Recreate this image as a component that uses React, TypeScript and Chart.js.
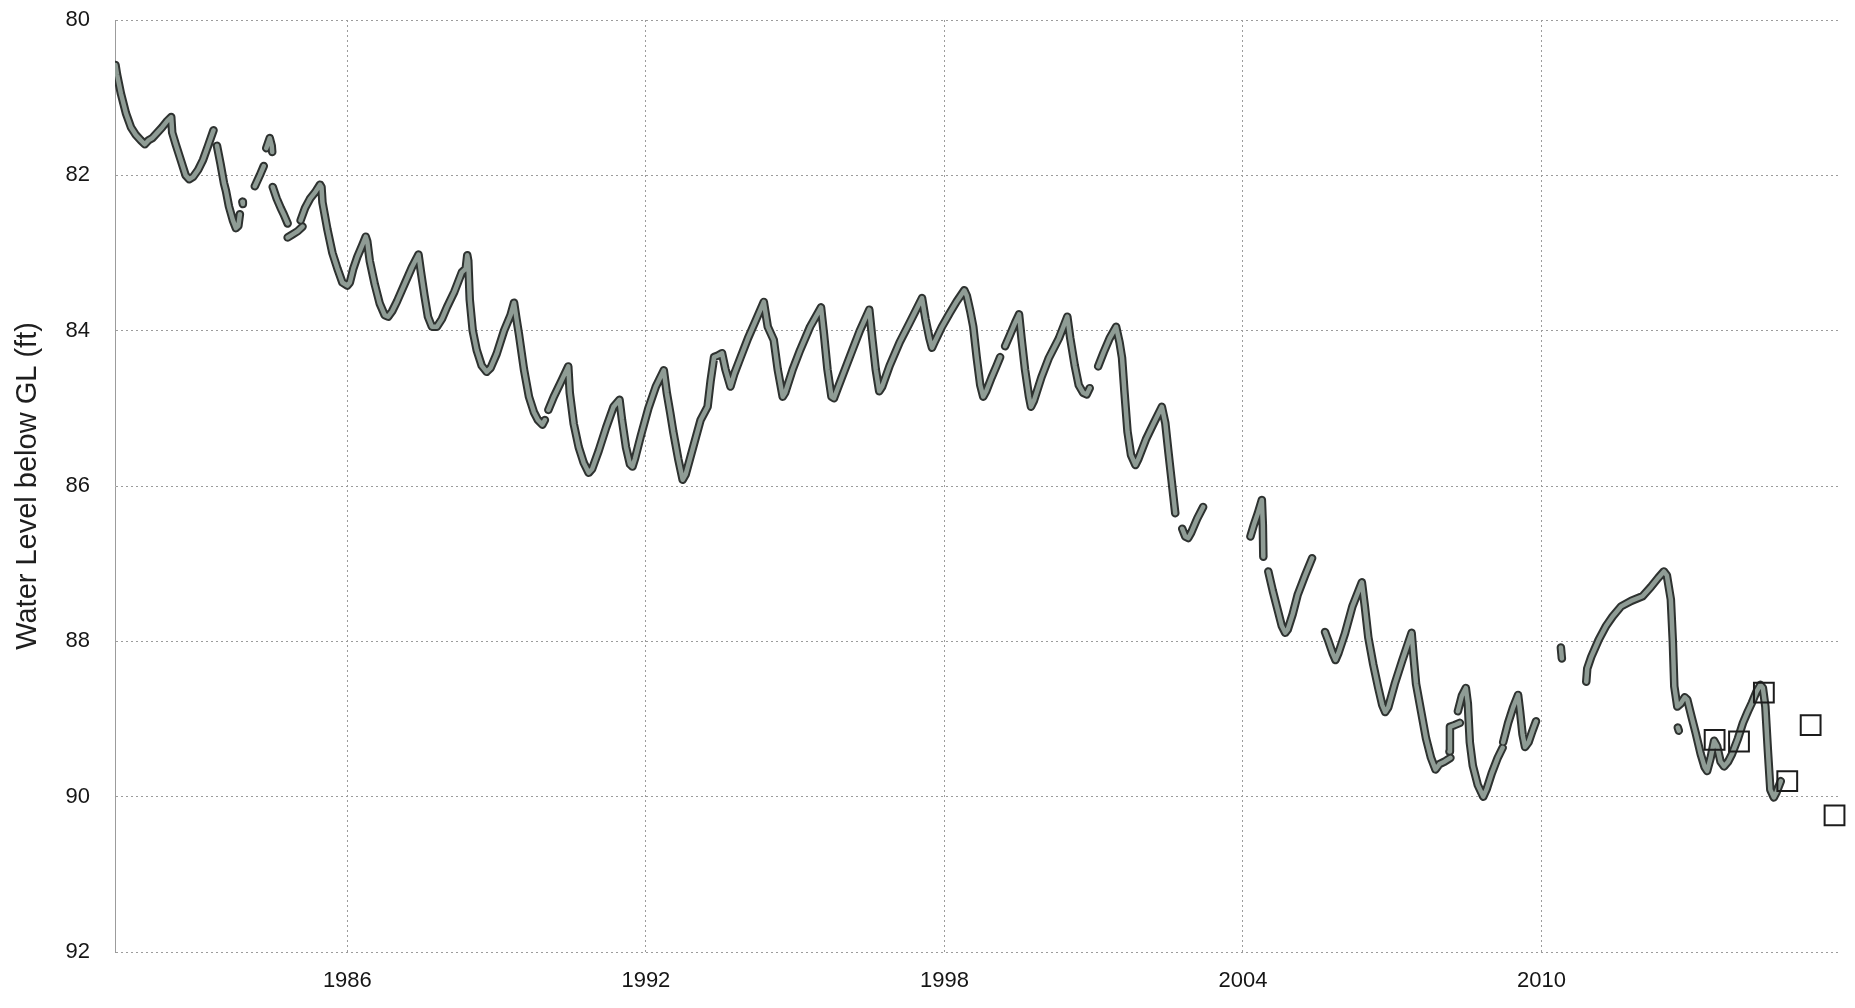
import React, { useEffect, useRef } from "react";
import { Chart, registerables } from "chart.js";

Chart.register(...registerables);

// Decimal year, water level below ground level (ft); null = gap in record
const hydrographReadings: ([number, number] | null)[] = [
  [1981.34, 80.58], [1981.37, 80.7], [1981.45, 80.95], [1981.55, 81.2], [1981.65, 81.38],
  [1981.75, 81.48], [1981.85, 81.55], [1981.93, 81.6], [1982.0, 81.55], [1982.08, 81.52],
  [1982.18, 81.45], [1982.28, 81.38], [1982.38, 81.3], [1982.46, 81.25], [1982.48, 81.45],
  [1982.55, 81.6], [1982.65, 81.8], [1982.75, 82.0], [1982.82, 82.05], [1982.9, 82.02],
  [1983.0, 81.93], [1983.1, 81.8], [1983.2, 81.62], [1983.31, 81.42],
  null,
  [1983.38, 81.62], [1983.45, 81.85], [1983.52, 82.1], [1983.56, 82.2], [1983.62, 82.4],
  [1983.7, 82.58], [1983.76, 82.68], [1983.81, 82.65], [1983.84, 82.5],
  null,
  [1983.89, 82.34], [1983.9, 82.37],
  null,
  [1984.14, 82.14], [1984.24, 82.0], [1984.32, 81.88],
  null,
  [1984.37, 81.65], [1984.44, 81.52], [1984.48, 81.62], [1984.49, 81.7],
  null,
  [1984.5, 82.15], [1984.58, 82.3], [1984.66, 82.42], [1984.72, 82.5], [1984.8, 82.62],
  null,
  [1984.8, 82.8], [1984.9, 82.76], [1985.0, 82.72], [1985.1, 82.66],
  null,
  [1985.06, 82.58], [1985.15, 82.42], [1985.25, 82.3], [1985.35, 82.22], [1985.45, 82.12],
  [1985.48, 82.15], [1985.5, 82.35], [1985.6, 82.7], [1985.7, 83.0], [1985.8, 83.2],
  [1985.9, 83.38], [1986.0, 83.42], [1986.05, 83.38], [1986.12, 83.2], [1986.2, 83.05],
  [1986.3, 82.9], [1986.37, 82.79], [1986.4, 82.85], [1986.45, 83.1], [1986.55, 83.4],
  [1986.65, 83.65], [1986.75, 83.8], [1986.82, 83.82], [1986.9, 83.75], [1987.0, 83.62],
  [1987.15, 83.4], [1987.3, 83.18], [1987.43, 83.02], [1987.48, 83.25], [1987.55, 83.55],
  [1987.62, 83.82], [1987.7, 83.95], [1987.8, 83.95], [1987.9, 83.85], [1988.0, 83.7],
  [1988.15, 83.5], [1988.3, 83.25], [1988.38, 83.2], [1988.41, 83.03], [1988.43, 83.1],
  [1988.46, 83.6], [1988.52, 84.0], [1988.6, 84.25], [1988.7, 84.45], [1988.8, 84.53],
  [1988.88, 84.48], [1989.0, 84.3], [1989.15, 84.0], [1989.28, 83.8], [1989.35, 83.64],
  [1989.4, 83.85], [1989.45, 84.05], [1989.55, 84.5], [1989.65, 84.85], [1989.75, 85.05],
  [1989.83, 85.15], [1989.92, 85.21], [1989.97, 85.15],
  null,
  [1990.04, 85.02], [1990.15, 84.85], [1990.3, 84.65], [1990.44, 84.46], [1990.47, 84.8],
  [1990.55, 85.2], [1990.65, 85.5], [1990.75, 85.7], [1990.85, 85.83], [1990.92, 85.78],
  [1991.05, 85.55], [1991.2, 85.25], [1991.35, 84.98], [1991.47, 84.89], [1991.52, 85.15],
  [1991.6, 85.5], [1991.68, 85.72], [1991.73, 85.75], [1991.78, 85.65], [1991.9, 85.35],
  [1992.05, 85.0], [1992.2, 84.72], [1992.36, 84.51], [1992.42, 84.8], [1992.49, 85.06],
  [1992.55, 85.3], [1992.65, 85.65], [1992.74, 85.92], [1992.8, 85.85], [1992.95, 85.5],
  [1993.1, 85.15], [1993.24, 84.98], [1993.3, 84.65], [1993.37, 84.34], [1993.45, 84.32],
  [1993.53, 84.29], [1993.6, 84.5], [1993.7, 84.72], [1993.78, 84.55], [1993.9, 84.35],
  [1994.05, 84.1], [1994.2, 83.88], [1994.37, 83.63], [1994.45, 83.95], [1994.57, 84.12],
  [1994.65, 84.5], [1994.75, 84.85], [1994.8, 84.8], [1994.95, 84.5], [1995.1, 84.25],
  [1995.3, 83.95], [1995.52, 83.7], [1995.58, 84.05], [1995.65, 84.5], [1995.73, 84.85],
  [1995.78, 84.87], [1995.85, 84.75], [1996.0, 84.5], [1996.15, 84.25], [1996.3, 84.0],
  [1996.49, 83.73], [1996.55, 84.1], [1996.62, 84.5], [1996.69, 84.78], [1996.75, 84.72],
  [1996.9, 84.45], [1997.1, 84.15], [1997.3, 83.9], [1997.55, 83.58], [1997.62, 83.85],
  [1997.7, 84.1], [1997.75, 84.22], [1997.8, 84.15], [1997.95, 83.95], [1998.1, 83.78],
  [1998.25, 83.62], [1998.4, 83.48], [1998.45, 83.55], [1998.52, 83.75], [1998.58, 83.95],
  [1998.65, 84.35], [1998.72, 84.7], [1998.78, 84.85], [1998.84, 84.78], [1998.95, 84.6],
  [1999.05, 84.45], [1999.12, 84.34],
  null,
  [1999.22, 84.2], [1999.32, 84.05], [1999.42, 83.9], [1999.5, 83.79], [1999.55, 84.1],
  [1999.62, 84.5], [1999.7, 84.85], [1999.74, 84.98], [1999.8, 84.9], [1999.95, 84.6],
  [2000.1, 84.35], [2000.3, 84.1], [2000.47, 83.82], [2000.53, 84.1], [2000.62, 84.45],
  [2000.7, 84.7], [2000.79, 84.8], [2000.86, 84.82], [2000.92, 84.74],
  null,
  [2001.09, 84.46], [2001.2, 84.28], [2001.32, 84.1], [2001.45, 83.95], [2001.52, 84.15],
  [2001.57, 84.35], [2001.62, 84.8], [2001.68, 85.3], [2001.75, 85.6], [2001.84, 85.73],
  [2001.9, 85.65], [2002.05, 85.4], [2002.2, 85.2], [2002.37, 84.98], [2002.44, 85.19],
  [2002.5, 85.55], [2002.57, 85.95], [2002.64, 86.35],
  null,
  [2002.78, 86.55], [2002.84, 86.65], [2002.9, 86.67], [2002.96, 86.6], [2003.08, 86.42],
  [2003.2, 86.27],
  null,
  [2004.15, 86.65], [2004.22, 86.5], [2004.3, 86.35], [2004.38, 86.18], [2004.4, 86.5],
  [2004.41, 86.91],
  null,
  [2004.51, 87.1], [2004.6, 87.35], [2004.7, 87.6], [2004.78, 87.8], [2004.85, 87.89],
  [2004.9, 87.85], [2005.0, 87.65], [2005.1, 87.4], [2005.25, 87.15], [2005.39, 86.93],
  null,
  [2005.65, 87.88], [2005.72, 88.0], [2005.8, 88.15], [2005.86, 88.24], [2005.92, 88.15],
  [2006.05, 87.9], [2006.2, 87.55], [2006.39, 87.24], [2006.45, 87.55], [2006.52, 87.95],
  [2006.62, 88.3], [2006.72, 88.6], [2006.8, 88.82], [2006.86, 88.91], [2006.92, 88.85],
  [2007.05, 88.55], [2007.2, 88.25], [2007.39, 87.89], [2007.43, 88.2], [2007.48, 88.55],
  [2007.58, 88.9], [2007.68, 89.25], [2007.78, 89.5], [2007.87, 89.65], [2007.95, 89.58],
  [2008.05, 89.55], [2008.17, 89.5],
  null,
  [2008.15, 89.42], [2008.16, 89.1], [2008.25, 89.08], [2008.36, 89.05],
  null,
  [2008.32, 88.9], [2008.4, 88.7], [2008.48, 88.6], [2008.52, 88.8], [2008.56, 89.3],
  [2008.62, 89.6], [2008.72, 89.85], [2008.83, 90.0], [2008.9, 89.9], [2009.0, 89.7],
  [2009.12, 89.5], [2009.22, 89.37],
  null,
  [2009.23, 89.3], [2009.33, 89.05], [2009.43, 88.85], [2009.53, 88.69], [2009.57, 88.9],
  [2009.62, 89.2], [2009.67, 89.36], [2009.74, 89.3], [2009.82, 89.15], [2009.89, 89.03],
  null,
  [2010.39, 88.08], [2010.41, 88.22],
  null,
  [2010.9, 88.52], [2010.92, 88.35], [2011.0, 88.2], [2011.15, 87.98], [2011.3, 87.8],
  [2011.43, 87.68], [2011.6, 87.55], [2011.8, 87.48], [2012.03, 87.42], [2012.2, 87.3],
  [2012.35, 87.18], [2012.46, 87.1], [2012.52, 87.15], [2012.6, 87.46], [2012.64, 88.0],
  [2012.67, 88.58], [2012.73, 88.84], [2012.8, 88.8], [2012.88, 88.72], [2012.93, 88.75],
  [2013.02, 88.98], [2013.1, 89.18], [2013.2, 89.45], [2013.28, 89.62], [2013.33, 89.67],
  [2013.4, 89.5], [2013.47, 89.28], [2013.53, 89.35], [2013.6, 89.55], [2013.67, 89.61],
  [2013.75, 89.55], [2013.83, 89.45], [2013.95, 89.25], [2014.05, 89.05], [2014.15, 88.9],
  [2014.23, 88.79], [2014.32, 88.65], [2014.4, 88.56], [2014.45, 88.6], [2014.5, 88.84],
  [2014.55, 89.4], [2014.6, 89.91], [2014.67, 90.01], [2014.72, 89.95], [2014.81, 89.8],
  null,
  [2012.74, 89.11], [2012.76, 89.15],
];

// Manual (square) measurements
const manualYears = [2013.48, 2013.97, 2014.47, 2014.94, 2015.41, 2015.89];
const manualLevels = [89.27, 89.29, 88.66, 89.8, 89.08, 90.24];

const yearTicks = [1986, 1992, 1998, 2004, 2010];
const levelTicks = [80, 82, 84, 86, 88, 90, 92];
const yAxisTitle = "Water Level below GL (ft)";

const X_MIN = 1981.33;
const X_MAX = 2016.0;

export default function App() {
  const canvasRef = useRef<HTMLCanvasElement | null>(null);

  useEffect(() => {
    const canvas = canvasRef.current;
    if (!canvas) return;

    const lineData = hydrographReadings.map((r, i) =>
      r ? { x: r[0], y: r[1] } : { x: (hydrographReadings[i - 1] as [number, number])[0], y: null }
    );
    const squareData = manualYears.map((x, i) => ({ x, y: manualLevels[i] }));

    const fontFamily = "'Liberation Sans', Arial, sans-serif";
    const gridColor = "#9c9c9c";

    const chart = new Chart(canvas, {
      type: "line",
      data: {
        datasets: [
          {
            data: squareData as any,
            showLine: false,
            pointStyle: "rect",
            pointRadius: 14,
            pointHoverRadius: 14,
            pointBorderWidth: 2,
            pointBorderColor: "#1c1c1c",
            pointBackgroundColor: "rgba(0,0,0,0)",
            clip: false as any,
            order: 0,
          },
          {
            data: lineData as any,
            borderColor: "#8f9c95",
            borderWidth: 4.5,
            pointRadius: 0,
            spanGaps: false,
            tension: 0,
            borderCapStyle: "round",
            borderJoinStyle: "round",
            order: 1,
          },
          {
            data: lineData as any,
            borderColor: "#2e3230",
            borderWidth: 8.5,
            pointRadius: 0,
            spanGaps: false,
            tension: 0,
            borderCapStyle: "round",
            borderJoinStyle: "round",
            order: 2,
          },
        ],
      },
      options: {
        animation: false,
        responsive: false,
        maintainAspectRatio: false,
        parsing: false as any,
        normalized: true,
        layout: { autoPadding: false, padding: { left: 0, right: 15, top: 20, bottom: 0 } },
        plugins: {
          legend: { display: false },
          tooltip: { enabled: false },
        },
        scales: {
          x: {
            type: "linear",
            min: X_MIN,
            max: X_MAX,
            afterBuildTicks: (scale: any) => {
              scale.ticks = yearTicks.map((v) => ({ value: v }));
            },
            afterFit: (scale: any) => {
              scale.height = 56;
            },
            ticks: {
              autoSkip: false,
              maxRotation: 0,
              padding: 0,
              color: "#161616",
              font: { family: fontFamily, size: 22 },
              callback: (v: any) => String(v),
            },
            grid: {
              color: gridColor,
              lineWidth: 1,
              drawTicks: true,
              tickLength: 16,
              tickColor: "rgba(0,0,0,0)",
            },
            border: { display: false, dash: [2, 3] },
          },
          y: {
            type: "linear",
            reverse: true,
            min: 80,
            max: 92,
            afterBuildTicks: (scale: any) => {
              scale.ticks = levelTicks.map((v) => ({ value: v }));
            },
            afterFit: (scale: any) => {
              scale.width = 115;
            },
            ticks: {
              padding: 0,
              color: "#161616",
              font: { family: fontFamily, size: 22 },
              callback: (v: any) => String(v),
            },
            grid: {
              color: gridColor,
              lineWidth: 1,
              drawTicks: true,
              tickLength: 25,
              tickColor: "rgba(0,0,0,0)",
            },
            border: { display: true, color: gridColor, width: 1, dash: [2, 3] },
            title: {
              display: true,
              text: yAxisTitle,
              color: "#1e1e1e",
              font: { family: fontFamily, size: 29 },
              padding: { top: 11, bottom: 0 },
            },
          },
        },
      },
    });

    return () => chart.destroy();
  }, []);

  return (
    <div style={{ position: "fixed", left: 0, top: 0, width: 1855, height: 1008, background: "#fff" }}>
      <canvas ref={canvasRef} width={1855} height={1008} style={{ width: 1855, height: 1008, display: "block" }} />
    </div>
  );
}
